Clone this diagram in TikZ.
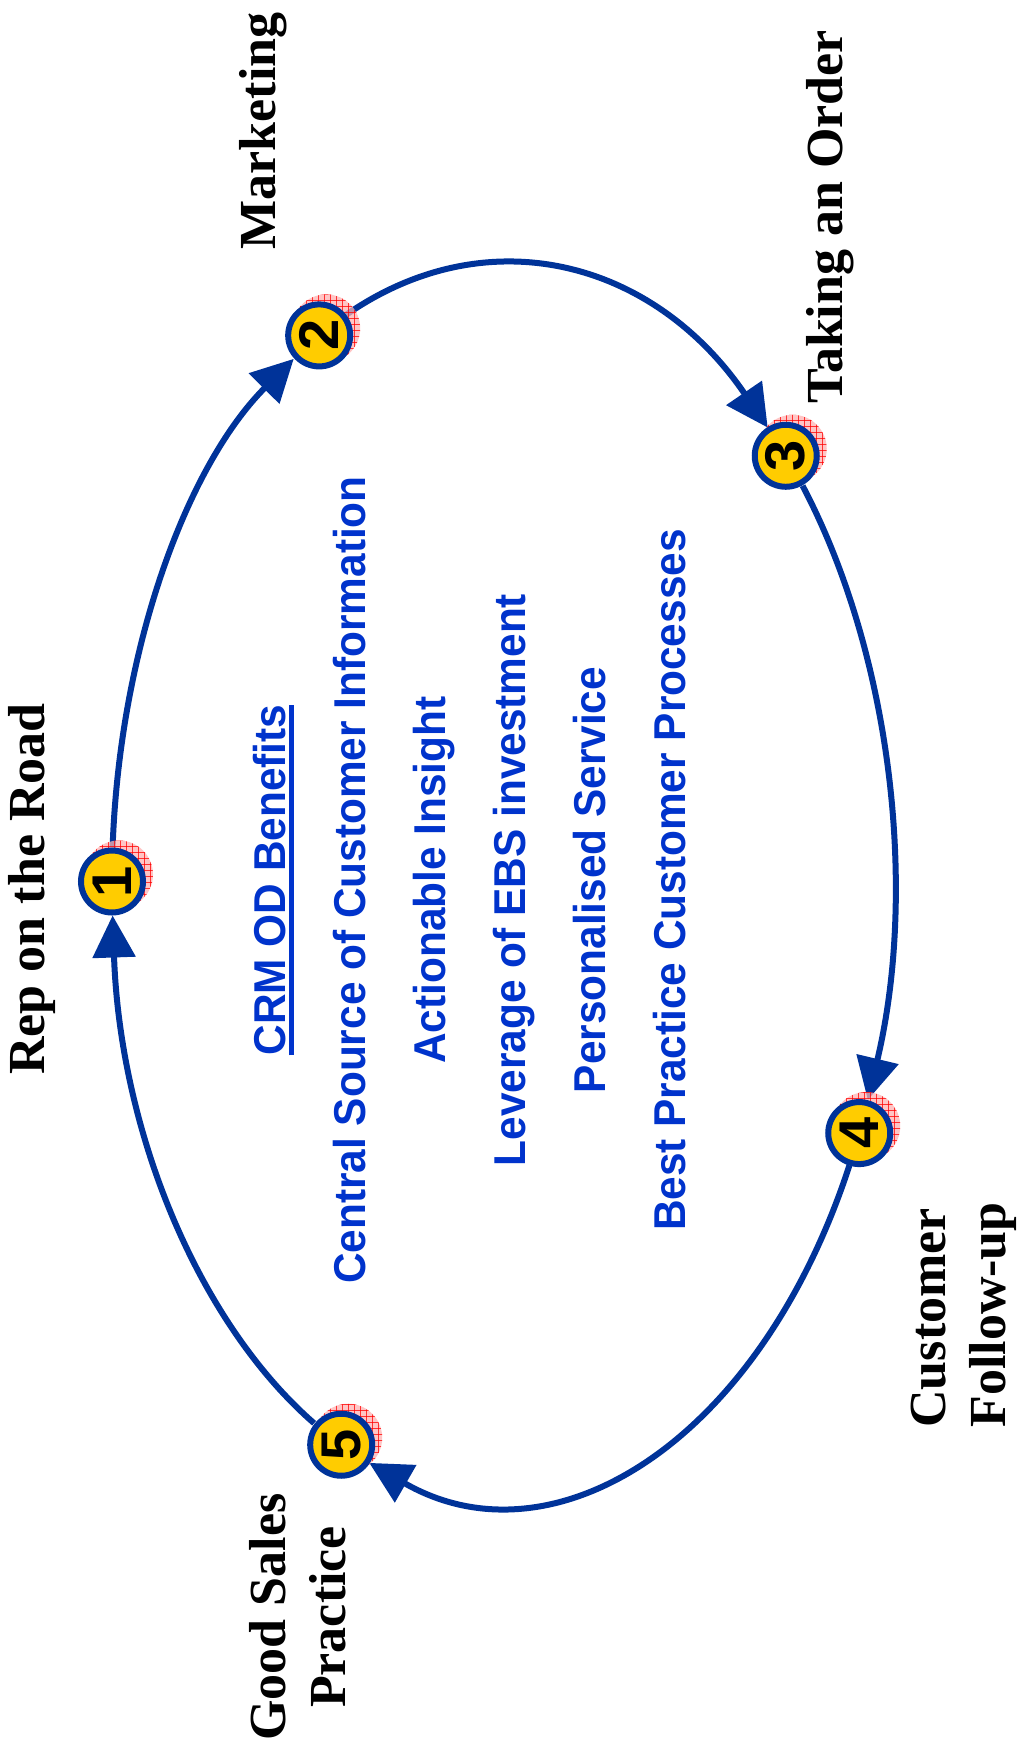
\documentclass[tikz,border=0pt]{standalone}
\usepackage{fontspec}
\setmainfont{Liberation Serif}
\newfontfamily\bluefont[FakeStretch=0.95]{Liberation Sans}
\newfontfamily\numfont{Liberation Sans}
\usetikzlibrary{arrows.meta,calc,patterns}
\definecolor{ellblue}{RGB}{0,51,153}
\definecolor{txtblue}{RGB}{0,51,204}
\definecolor{numyellow}{RGB}{255,204,0}
\newcommand\crmul[1]{\setbox0\hbox{#1}\rlap{\rule[-4.5pt]{\wd0}{2.5pt}}\box0}
\begin{document}
\begin{tikzpicture}[x=0.5pt,y=0.5pt,
  cyc/.style={draw=ellblue, line width=3pt, -{Triangle[length=21pt,width=21pt]}},
  stepnum/.style={circle, draw=ellblue, line width=3pt, fill=numyellow, minimum size=31pt, inner sep=0pt, font=\numfont\bfseries\fontsize{28}{28}\selectfont, rotate=90},
  lbl/.style={font=\fontsize{26}{30}\selectfont\bfseries, inner sep=0pt, rotate=90},
  ben/.style={font=\bluefont\bfseries\fontsize{22.3}{26}\selectfont, text=txtblue, inner sep=0pt, rotate=90, anchor=base},
  shad/.style={fill=red!30, postaction={pattern=grid, pattern color=red}}
]
\fill[white] (0,0) rectangle (1028,-1758);
\useasboundingbox (0,0) rectangle (1028,-1758);
\coordinate (c) at (502.5,-881.5);
% circle positions
\coordinate (p1) at ($(c)+(180:390.5 and 618.5)$);
\coordinate (p2) at ($(c)+(118:390.5 and 618.5)$);
\coordinate (p3) at ($(c)+(43.5:390.5 and 618.5)$);
\coordinate (p4) at ($(c)+(-24:390.5 and 618.5)$);
\coordinate (p5) at ($(c)+(-114.4:390.5 and 618.5)$);
% arc start points
\coordinate (s1) at ($(c)+(176.85:390.5 and 618.5)$);
\coordinate (s2) at ($(c)+(113.68:390.5 and 618.5)$);
\coordinate (s3) at ($(c)+(39.78:390.5 and 618.5)$);
\coordinate (s4) at ($(c)+(-27.32:390.5 and 618.5)$);
\coordinate (s5) at ($(c)+(-118.85:390.5 and 618.5)$);
% connectors
\draw[cyc] (s1) arc[start angle=176.85, end angle=122.32, x radius=390.5, y radius=618.5];
\draw[cyc] (s2) arc[start angle=113.68, end angle=47.22, x radius=390.5, y radius=618.5];
\draw[cyc] (s3) arc[start angle=39.78, end angle=-20.68, x radius=390.5, y radius=618.5];
\draw[cyc] (s4) arc[start angle=-27.32, end angle=-109.95, x radius=390.5, y radius=618.5];
\draw[cyc] (s5) arc[start angle=-118.85, end angle=-176.85, x radius=390.5, y radius=618.5];
% shadows
\foreach \p in {p1,p2,p3,p4,p5}{\fill[shad, opacity=0.75] ($(\p)+(7,7)$) circle[radius=34];}
% step circles
\node[stepnum] (n1) at (p1) {1};
\node[stepnum] (n2) at (p2) {2};
\node[stepnum] (n3) at (p3) {3};
\node[stepnum] (n4) at (p4) {4};
\node[stepnum] (n5) at (p5) {5};
% black labels
\node[lbl, anchor=base] (rep) at (45,-889) {Rep on the Road};
\node[lbl, anchor=base] (mkt) at (275,-131) {Marketing};
\node[lbl, anchor=base] (ord) at (842,-217) {Taking an Order};
\node[lbl, anchor=base west, align=left] (fol) at (1005,-1428) {Customer\\Follow-up};
\node[lbl, anchor=base, align=center] (gsp) at (345,-1617) {Good Sales\\Practice};
% benefits
\node[ben] (b0) at (285,-880) {\crmul{CRM OD Benefits}};
\node[ben] (b1) at (365,-880) {Central Source of Customer Information};
\node[ben] (b2) at (445,-880) {Actionable Insight};
\node[ben] (b3) at (525,-880) {Leverage of EBS investment};
\node[ben] (b4) at (605,-880) {Personalised Service};
\node[ben] (b5) at (685,-880) {Best Practice Customer Processes};
\end{tikzpicture}
\end{document}
